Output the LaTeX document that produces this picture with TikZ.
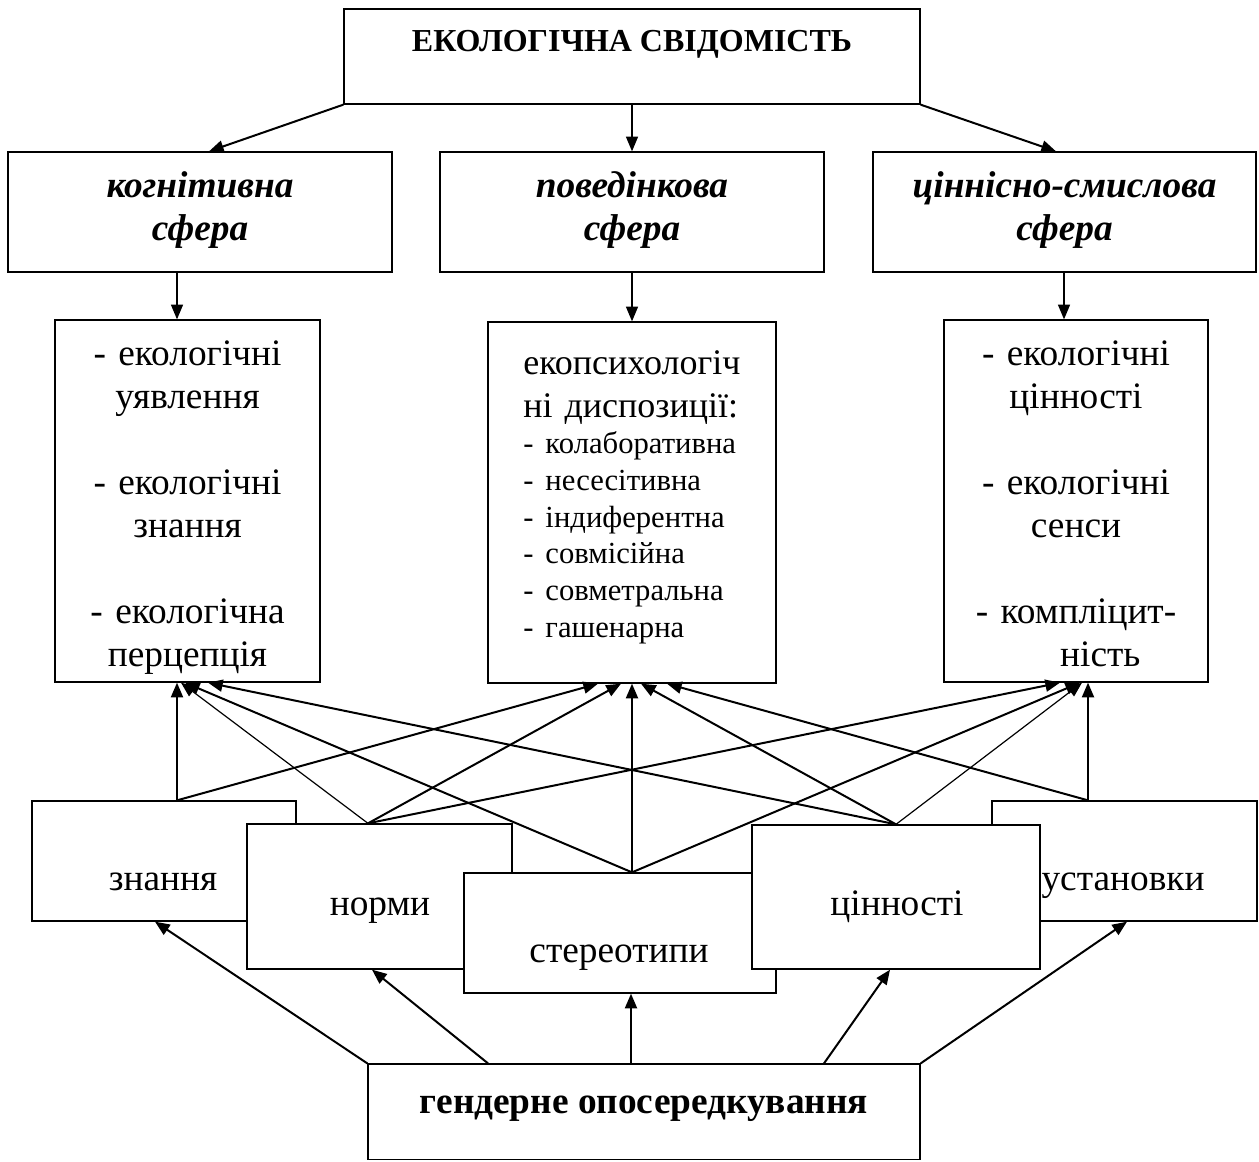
\documentclass[tikz,border=0pt]{standalone}
\usepackage{fontspec}
\setmainfont{Liberation Serif}
\usetikzlibrary{positioning, calc, arrows.meta}

\tikzset{
    box/.style={draw, line width=1pt, fill=white, inner sep=0pt},
    txt/.style={anchor=base, inner sep=0pt, font=\fontsize{28}{32.3}\selectfont},
    arr/.style={-{Triangle[length=11pt,width=9pt]}, line width=1.5pt},
    thinarr/.style={arr, line width=0.9pt}
}

\begin{document}
\begin{tikzpicture}[x=0.75pt, y=-0.75pt]
        \useasboundingbox (0,0) rectangle (1259,1161);

        % top
        \node[box, minimum width=432pt, minimum height=71.25pt] (top) at (632,56.5) {};
        \node[txt, font=\fontsize{24}{30}\selectfont\bfseries] (title) at (632,51) {ЕКОЛОГІЧНА СВІДОМІСТЬ};

        % the three spheres
        \node[box, minimum width=288pt, minimum height=90pt] (sph1) at (200,212) {};
        \node[box, minimum width=288pt, minimum height=90pt] (sph2) at (632,212) {};
        \node[box, minimum width=287.25pt, minimum height=90pt] (sph3) at (1064.5,212) {};
        \node[txt, text width=280pt, align=center, font=\fontsize{28}{32.3}\selectfont\bfseries\itshape] (sph1-t) at (200,197) {когнітивна\\сфера};
        \node[txt, text width=280pt, align=center, font=\fontsize{28}{32.3}\selectfont\bfseries\itshape] (sph2-t) at (632,197) {поведінкова\\сфера};
        \node[txt, text width=280pt, align=center, font=\fontsize{28}{32.3}\selectfont\bfseries\itshape] (sph3-t) at (1064.5,197) {ціннісно-смислова\\сфера};

        % contents
        \node[box, minimum width=198.75pt, minimum height=271.5pt] (boxA) at (187.5,501) {};
        \node[box, minimum width=216pt, minimum height=270.75pt] (boxB) at (632,502.5) {};
        \node[box, minimum width=198pt, minimum height=271.5pt] (boxC) at (1076,501) {};
        \node[txt, text width=180pt, align=center] (boxA-t) at (187.5,365)
            {- екологічні\\уявлення\\[32.3pt]- екологічні\\знання\\[32.3pt]- екологічна\\перцепція};
        \node[txt, anchor=base west, text width=200pt, align=left, font=\fontsize{27}{32.3}\selectfont] (boxB-t) at (523,374)
            {екопсихологіч\\ні диспозиції:\par
             \fontsize{23}{27.5}\selectfont
             - колаборативна\\- несесітивна\\- індиферентна\\- совмісійна\\- совметральна\\- гашенарна\par};
        \node[txt, text width=180pt, align=center] (boxC-t) at (1076,365)
            {- екологічні\\цінності\\[32.3pt]- екологічні\\сенси\\[32.3pt]- компліцит-\\\hspace*{1.3em}ність};

        % the five overlapping boxes
        \node[box, minimum width=198pt, minimum height=90pt] (zn) at (164,861) {};
        \node[box, minimum width=198.75pt, minimum height=108.75pt] (norm) at (379.5,896.5) {};
        \node[box, minimum width=198.75pt, minimum height=90pt] (ust) at (1124.5,861) {};
        \node[box, minimum width=234pt, minimum height=90pt] (ster) at (620,933) {};
        \node[box, minimum width=216pt, minimum height=108pt] (cin) at (896,897) {};
        \node[txt] (zn-t) at (163,890) {знання};
        \node[txt] (norm-t) at (380,915) {норми};
        \node[txt] (ster-t) at (619,962) {стереотипи};
        \node[txt] (cin-t) at (897,915) {цінності};
        \node[txt] (ust-t) at (1123,890) {установки};

        % gender box
        \node[box, minimum width=414pt, minimum height=71.6pt] (gend) at (644,1111.75) {};
        \node[txt, font=\fontsize{28}{32.3}\selectfont\bfseries] (gend-t) at (644,1113) {гендерне опосередкування};

        % top -> spheres
        \draw[arr] (top.south west) -- ($(sph1.north)+(9,0)$);
        \draw[thinarr] (top.south) -- (sph2.north);
        \draw[arr] (top.south east) -- ($(sph3.north)+(-8.5,0)$);

        % spheres -> contents
        \coordinate (a-in) at ($(boxA.north)+(-10.5,0)$);
        \coordinate (c-in) at ($(boxC.north)+(-12,0)$);
        \draw[thinarr] (sph1.south -| a-in) -- (a-in);
        \draw[thinarr] (sph2.south) -- (boxB.north);
        \draw[thinarr] (sph3.south -| c-in) -- (c-in);

        % start points on the five boxes
        \coordinate (zn-up) at ($(zn.north)+(13,0)$);
        \coordinate (norm-up) at ($(norm.north)+(-11.5,0)$);
        \coordinate (ster-up) at ($(ster.north)+(12,0)$);
        \coordinate (cin-up) at (cin.north);
        \coordinate (ust-up) at ($(ust.north)+(-36.5,0)$);

        % five boxes -> contents
        \draw[arr] (zn-up) -- ($(boxA.south)+(-10.5,0)$);
        \draw[arr] (zn-up) -- ($(boxB.south)+(-34,0)$);
        \draw[thinarr] (norm-up) -- ($(boxA.south)+(-6.5,0)$);
        \draw[arr] (norm-up) -- ($(boxB.south)+(-11,0)$);
        \draw[arr] (norm-up) -- ($(boxC.south)+(-16,0)$);
        \draw[arr] (ster-up) -- ($(boxA.south)+(-2.5,0)$);
        \draw[arr] (ster-up) -- (boxB.south);
        \draw[arr] (ster-up) -- ($(boxC.south)+(4,0)$);
        \draw[arr] (cin-up) -- ($(boxA.south)+(20.5,0)$);
        \draw[arr] (cin-up) -- ($(boxB.south)+(9,0)$);
        \draw[thinarr] (cin-up) -- ($(boxC.south)+(6,0)$);
        \draw[arr] (ust-up) -- ($(boxB.south)+(35,0)$);
        \draw[arr] (ust-up) -- ($(boxC.south)+(12,0)$);

        % gender -> five boxes
        \draw[arr] (gend.north west) -- ($(zn.south)+(-9,0)$);
        \draw[arr] ($(gend.north)+(-156,0)$) -- ($(norm.south)+(-7.5,0)$);
        \draw[arr] ($(gend.north)+(-13,0)$) -- ($(ster.south)+(11,0)$);
        \draw[arr] ($(gend.north)+(180,0)$) -- ($(cin.south)+(-6,0)$);
        \draw[arr] (gend.north east) -- ($(ust.south)+(2.5,0)$);
    \end{tikzpicture}
\end{document}
